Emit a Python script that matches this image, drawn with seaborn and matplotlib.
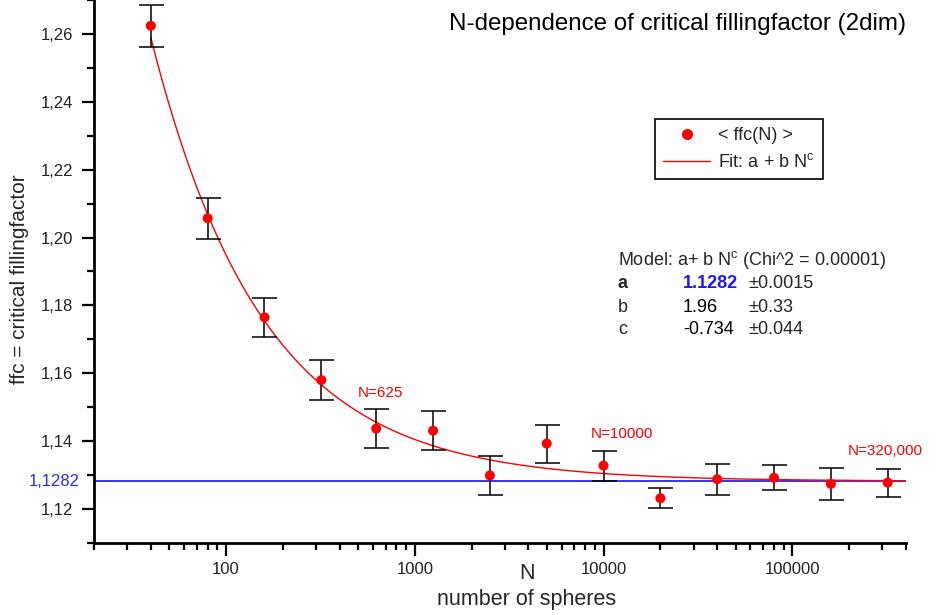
import numpy as np
import pandas as pd
import matplotlib
matplotlib.use("Agg")
import matplotlib.pyplot as plt
import matplotlib.ticker as mticker
from matplotlib.lines import Line2D
import seaborn as sns

# ---- data ----
n_spheres = [40, 80, 160, 320, 625, 1250, 2500, 5000, 10000, 20000, 40000, 80000, 160000, 320000]
ffc_mean = [1.2624, 1.2057, 1.1765, 1.1580, 1.1437, 1.1431, 1.1299, 1.1393, 1.1328,
            1.1232, 1.1288, 1.1292, 1.1274, 1.1278]
ffc_err = [0.0062, 0.0060, 0.0058, 0.0058, 0.0057, 0.0057, 0.0057, 0.0056, 0.0044,
           0.0030, 0.0046, 0.0037, 0.0046, 0.0041]

fit_a = 1.1282
fit_b = 1.96
fit_c = -0.734
fit_range = [40, 400000]

annot_labels = ["N=625", "N=10000", "N=320,000"]
annot_x = [662, 12530, 311000]
annot_y = [1.1542, 1.1421, 1.1371]

y_ticks = [1.12, 1.14, 1.16, 1.18, 1.20, 1.22, 1.24, 1.26]
x_tick_labels = ["100", "1000", "10000", "100000"]

# ---- style ----
sns.set_style("ticks")
plt.rcParams['font.family'] = ['Liberation Sans', 'DejaVu Sans']
plt.rcParams['mathtext.fontset'] = 'custom'
plt.rcParams['mathtext.rm'] = 'Liberation Sans'
plt.rcParams['mathtext.it'] = 'Liberation Sans'

W, H = 944, 615
fig = plt.figure(figsize=(W / 100, H / 100), dpi=100)
ax = fig.add_axes([94 / W, 1 - 543 / H, (906 - 94) / W, 543 / H])

df = pd.DataFrame({"N": n_spheres, "ffc": ffc_mean, "err": ffc_err})

# fit curve from the model parameters
N_fit = np.logspace(np.log10(fit_range[0]), np.log10(fit_range[1]), 400)
fit_df = pd.DataFrame({"N": N_fit, "ffc": fit_a + fit_b * N_fit ** fit_c})

ax.axhline(fit_a, color="#1010ff", lw=1.2, zorder=1)
sns.lineplot(data=fit_df, x="N", y="ffc", color="red", lw=1.0, ax=ax, zorder=2,
             legend=False)
ax.errorbar(df["N"], df["ffc"], yerr=df["err"], fmt="none", ecolor="black",
            elinewidth=1.1, capsize=9, capthick=1.1, zorder=3)
sns.scatterplot(data=df, x="N", y="ffc", color="red", s=52, edgecolor="none",
                ax=ax, zorder=4, legend=False)

ax.set_xscale("log")
ax.set_xlim(20, 400000)
ax.set_ylim(1.11, 1.27)
ax.set_xlabel("")
ax.set_ylabel("")

ax.xaxis.set_major_locator(mticker.FixedLocator([100, 1000, 10000, 100000]))
ax.xaxis.set_major_formatter(mticker.FixedFormatter(x_tick_labels))
ax.xaxis.set_minor_locator(mticker.LogLocator(base=10, subs=np.arange(2, 10)))
ax.xaxis.set_minor_formatter(mticker.NullFormatter())

ax.yaxis.set_major_locator(mticker.FixedLocator(y_ticks))
ax.yaxis.set_major_formatter(mticker.FuncFormatter(lambda v, p: f"{v:.2f}".replace(".", ",")))
ax.yaxis.set_minor_locator(mticker.MultipleLocator(0.01))

for s in ["top", "right"]:
    ax.spines[s].set_visible(False)
for s in ["left", "bottom"]:
    ax.spines[s].set_linewidth(2.0)
    ax.spines[s].set_color("black")

ax.tick_params(axis="both", which="major", direction="out", length=9, width=1.6,
               labelsize=12, colors="black", labelcolor="#222222")
ax.tick_params(axis="both", which="minor", direction="out", length=5, width=1.6,
               colors="black")
ax.tick_params(axis="y", which="major", pad=6)
ax.tick_params(axis="x", which="major", pad=5)

# blue label for a
ax.text(-0.018, fit_a, "1,1282", transform=ax.get_yaxis_transform(), ha="right",
        va="center", color="#2a2aff", fontsize=12)

# annotations
for lab, xx, yy in zip(annot_labels, annot_x, annot_y):
    ax.text(xx, yy, lab, color="red", fontsize=11, ha="center", va="center")

# title
fig.text(449 / W, 1 - 30 / H, "N-dependence of critical fillingfactor (2dim)",
         fontsize=17.4, ha="left", va="baseline", color="black")

# axis labels
fig.text(20 / W, 1 - 279 / H, "ffc = critical fillingfactor", rotation=90,
         fontsize=15, ha="center", va="center")
fig.text(527 / W, 1 - 579 / H, "N", fontsize=15.5, ha="center", va="baseline")
fig.text(527 / W, 1 - 605 / H, "number of spheres", fontsize=15.5, ha="center",
         va="baseline")

# legend
handles = [
    Line2D([], [], marker="o", color="red", linestyle="none", markersize=7),
    Line2D([], [], color="red", lw=1.0),
]
leg = ax.legend(handles, ["< ffc(N) >", r"Fit: a + b N$^\mathrm{c}$"],
                loc="upper left", bbox_to_anchor=(655 / W, 1 - 119 / H),
                bbox_transform=fig.transFigure, fontsize=13, frameon=True,
                fancybox=False, edgecolor="black", framealpha=1,
                handlelength=2.6, handletextpad=0.45, borderpad=0.45,
                labelspacing=0.5, borderaxespad=0)
leg.get_frame().set_linewidth(1.2)

# model text block
fs = 13
fig.text(618 / W, 1 - 265 / H, r"Model: a+ b N$^\mathrm{c}$ (Chi^2 = 0.00001)",
         fontsize=fs, ha="left", va="baseline")
rows = [("a", "1.1282", "\u00b10.0015"), ("b", "1.96", "\u00b10.33"),
        ("c", "-0.734", "\u00b10.044")]
row_base = [288, 312, 334]
for (lab, val, err), yb in zip(rows, row_base):
    bold = lab == "a"
    fig.text(618 / W, 1 - yb / H, lab, fontsize=fs, ha="left", va="baseline",
             fontweight="bold" if bold else "normal")
    fig.text(683 / W, 1 - yb / H, val, fontsize=fs, ha="left", va="baseline",
             fontweight="bold" if bold else "normal",
             color="#1a1aff" if bold else "black")
    fig.text(748 / W, 1 - yb / H, err, fontsize=fs, ha="left", va="baseline")

fig.savefig("out.png", dpi=100)
